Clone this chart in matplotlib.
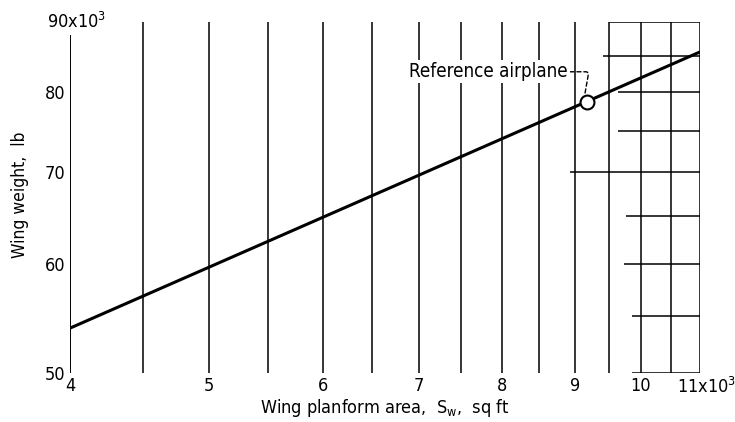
import matplotlib
matplotlib.use("Agg")
import matplotlib.pyplot as plt
from matplotlib.ticker import NullLocator, FixedLocator

plt.rcParams['font.family'] = ['DejaVu Sans']
plt.rcParams['font.stretch'] = 'condensed'
plt.rcParams['mathtext.fontset'] = 'custom'
plt.rcParams['mathtext.rm'] = 'DejaVu Sans:stretch=condensed'
plt.rcParams['mathtext.it'] = 'DejaVu Sans:stretch=condensed'

# data
area = [4.0, 11.0]            # wing planform area, 10^3 sq ft
weight = [53.9, 85.6]         # wing weight, 10^3 lb
ref_area = [9.17]
ref_weight = [78.7]
xticks = [4, 5, 6, 7, 8, 9, 10]
xtick_labels = ['4', '5', '6', '7', '8', '9', '10']
yticks = [50, 60, 70, 80]
ytick_labels = ['50', '60', '70', '80']
vgrid = [4.5, 5, 5.5, 6, 6.5, 7, 7.5, 8, 8.5, 9, 9.5, 10, 10.5, 11]
hgrid = [55, 60, 65, 70, 75, 80, 85]
hgrid_start = [9.86, 9.73, 9.76, 8.93, 9.64, 9.64, 9.41]

fig = plt.figure(figsize=(7.35, 4.22), dpi=100)
ax = fig.add_axes([0.0952, 0.1161, 0.8572, 0.8318])
ax.set_xscale('log')
ax.set_yscale('log')
ax.set_xlim(4, 11)
ax.set_ylim(50, 90)
for s in ax.spines.values():
    s.set_visible(False)

lw = 1.1
# vertical grid lines
for v in vgrid:
    ax.plot([v, v], [50, 90], color='black', lw=lw, solid_capstyle='butt')
ax.plot([4, 4], [50, 88.1], color='black', lw=lw + 0.3, solid_capstyle='butt')
# horizontal grid lines on the right
for h, s in zip(hgrid, hgrid_start):
    ax.plot([s, 11], [h, h], color='black', lw=lw, solid_capstyle='butt')
ax.plot([9.86, 11], [50, 50], color='black', lw=lw, solid_capstyle='butt')
ax.plot([9.5, 11], [90, 90], color='black', lw=lw, solid_capstyle='butt')

# data line
ax.plot(area, weight, color='black', lw=2.2, solid_capstyle='butt', zorder=3)
ax.plot(ref_area, ref_weight, 'o', ms=10, mfc='white', mec='black', mew=1.5, zorder=4)
ax.annotate('Reference airplane', xy=(9.14, 79.6), xytext=(8.9, 82.8),
            ha='right', va='center', fontsize=13.5, zorder=5,
            bbox=dict(boxstyle='square,pad=0.1', fc='white', ec='none'),
            arrowprops=dict(arrowstyle='-', color='black', lw=1.0, ls=(0, (3, 2)),
                            connectionstyle='angle,angleA=0,angleB=80,rad=3',
                            shrinkA=0, shrinkB=0))

ax.xaxis.set_major_locator(FixedLocator(xticks))
ax.set_xticklabels(xtick_labels)
ax.xaxis.set_minor_locator(NullLocator())
ax.yaxis.set_major_locator(FixedLocator(yticks))
ax.set_yticklabels(ytick_labels)
ax.yaxis.set_minor_locator(NullLocator())
ax.tick_params(length=0, labelsize=13, pad=3)

ax.annotate('11x10$^3$', xy=(10.6, 50), xycoords='data', xytext=(0, -3),
            textcoords='offset points', ha='left', va='top', fontsize=13,
            annotation_clip=False)
ax.text(-0.037, 1.0, '90x10$^3$', transform=ax.transAxes, ha='left', va='center', fontsize=13)

ax.set_xlabel('Wing planform area,  S$_w$,  sq ft', fontsize=13, labelpad=1)
ax.set_ylabel('Wing weight,  lb', fontsize=12.5)
ax.yaxis.set_label_coords(-0.065, 0.507)

fig.savefig('out.png', dpi=100)
